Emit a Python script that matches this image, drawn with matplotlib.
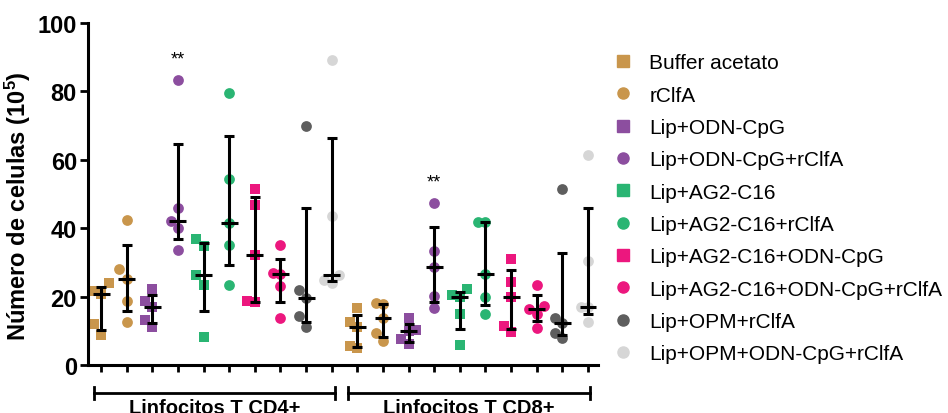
import numpy as np
import matplotlib
matplotlib.use("Agg")
import matplotlib.pyplot as plt
from matplotlib.lines import Line2D
from matplotlib.transforms import blended_transform_factory

plt.rcParams['font.family'] = ['Liberation Sans', 'DejaVu Sans']
plt.rcParams['mathtext.fontset'] = 'custom'
plt.rcParams['mathtext.rm'] = 'Liberation Sans:bold'
plt.rcParams['mathtext.it'] = 'Liberation Sans:bold'
plt.rcParams['mathtext.bf'] = 'Liberation Sans:bold'

treatments = ["Buffer acetato", "rClfA", "Lip+ODN-CpG", "Lip+ODN-CpG+rClfA",
              "Lip+AG2-C16", "Lip+AG2-C16+rClfA", "Lip+AG2-C16+ODN-CpG",
              "Lip+AG2-C16+ODN-CpG+rClfA", "Lip+OPM+rClfA", "Lip+OPM+ODN-CpG+rClfA"]
cell_groups = ["Linfocitos T CD4+", "Linfocitos T CD8+"]

# values (x10^5 cells), one list per treatment
cd4_values = [
    [21.5, 20.8, 23.9, 11.9, 8.8],
    [42.3, 28.1, 25.2, 18.6, 12.7],
    [22.2, 18.6, 16.9, 13.2, 11.2],
    [83.3, 45.9, 42.0, 40.1, 33.7],
    [36.7, 34.7, 26.4, 23.5, 8.1],
    [79.6, 54.3, 41.6, 35.2, 23.5],
    [51.6, 46.9, 32.3, 18.7, 18.3],
    [35.2, 26.9, 26.6, 23.0, 13.7],
    [69.9, 21.8, 19.6, 14.2, 11.2],
    [89.2, 43.5, 26.2, 24.9, 24.0],
]
cd8_values = [
    [16.6, 12.7, 11.2, 5.6, 4.9],
    [18.1, 17.8, 13.7, 9.3, 7.0],
    [13.7, 10.3, 10.0, 7.5, 6.2],
    [47.4, 33.2, 28.6, 20.3, 16.6],
    [22.2, 20.5, 20.0, 15.0, 5.9],
    [41.8, 41.8, 26.6, 20.0, 15.0],
    [31.1, 24.3, 19.9, 11.4, 9.7],
    [23.5, 17.3, 16.3, 15.0, 10.9],
    [51.6, 13.7, 12.2, 9.3, 8.0],
    [61.3, 30.3, 16.9, 16.9, 12.7],
]
cd4_sig = ["", "", "", "**", "", "", "", "", "", ""]
cd8_sig = ["", "", "", "**", "", "", "", "", "", ""]

colors = ["#C9964C", "#C9964C", "#8C4E9F", "#8C4E9F", "#2AB573",
          "#2AB573", "#EC177E", "#EC177E", "#5E5E5E", "#D6D6D6"]
markers = ["s", "o", "s", "o", "s", "o", "s", "o", "o", "o"]


def spread(vals, step=0.29, thr=3.2):
    # simple column scatter: nudge points sideways when they collide
    order = np.argsort(vals)
    offs = np.zeros(len(vals))
    placed = []
    for i in order:
        for c in [0, -1, 1, -2, 2]:
            if all(not (pc == c and abs(pv - vals[i]) < thr) for pc, pv in placed):
                placed.append((c, vals[i]))
                offs[i] = c * step
                break
    return offs


fig = plt.figure(figsize=(9.48, 4.14), dpi=100)
ax = fig.add_axes([88 / 948, 48 / 414, 510 / 948, 342 / 414])

all_vals = cd4_values + cd8_values
all_sig = cd4_sig + cd8_sig
for k, vals in enumerate(all_vals):
    t = k % 10
    x = k + 1
    v = np.array(vals)
    ax.scatter(x + spread(v), v, s=60, marker=markers[t], color=colors[t],
               linewidths=0, zorder=2, clip_on=False)
    q1, med, q3 = np.percentile(v, [25, 50, 75], method="weibull")
    ax.errorbar([x], [med], yerr=[[med - q1], [q3 - med]], fmt="none",
                ecolor="black", elinewidth=2.2, capsize=3.6, capthick=2.2, zorder=3)
    ax.hlines(med, x - 0.33, x + 0.33, color="black", lw=2.2, zorder=3)
    if all_sig[k]:
        ax.text(x, v.max() + 6.2, all_sig[k], ha="center", va="center",
                fontsize=13)

ax.set_ylim(0, 100)
ax.set_xlim(0.49, 20.39)
ax.set_yticks(np.arange(0, 101, 20))
ax.set_xticks(np.arange(1, 21))
ax.set_xticklabels([])
for s in ["top", "right"]:
    ax.spines[s].set_visible(False)
for s in ["left", "bottom"]:
    ax.spines[s].set_linewidth(2.2)
ax.tick_params(axis="y", length=6, width=2, labelsize=17, pad=2)
ax.tick_params(axis="x", length=5, width=2)
for lab in ax.get_yticklabels():
    lab.set_fontweight("bold")
ax.set_ylabel("Número de celulas (10$^5$)", fontsize=17, fontweight="bold")
ax.yaxis.set_label_coords(-0.108, 0.466)

# group brackets under the axis
tr = blended_transform_factory(ax.transData, fig.transFigure)
spans = [(0.73, 10.12), (10.64, 20.08)]
for (x0, x1), name in zip(spans, cell_groups):
    yb = 0.049
    ax.add_line(Line2D([x0, x1], [yb, yb], transform=tr, color="black", lw=2, clip_on=False))
    for xe in (x0, x1):
        ax.add_line(Line2D([xe, xe], [yb - 0.015, yb + 0.015], transform=tr,
                           color="black", lw=2, clip_on=False))
    ax.text((x0 + x1) / 2, 0.036, name, transform=tr, ha="center", va="top",
            fontsize=14.5, fontweight="bold")

handles = [Line2D([], [], marker=markers[i], color=colors[i], linestyle="none",
                  markersize=8) for i in range(10)]
fig.legend(handles, treatments, loc="upper left", bbox_to_anchor=(0.646, 0.869),
           frameon=False, fontsize=15, handlelength=1.0, handletextpad=0.77,
           labelspacing=0.64, borderpad=0, borderaxespad=0)

fig.savefig("out.png", dpi=100)
